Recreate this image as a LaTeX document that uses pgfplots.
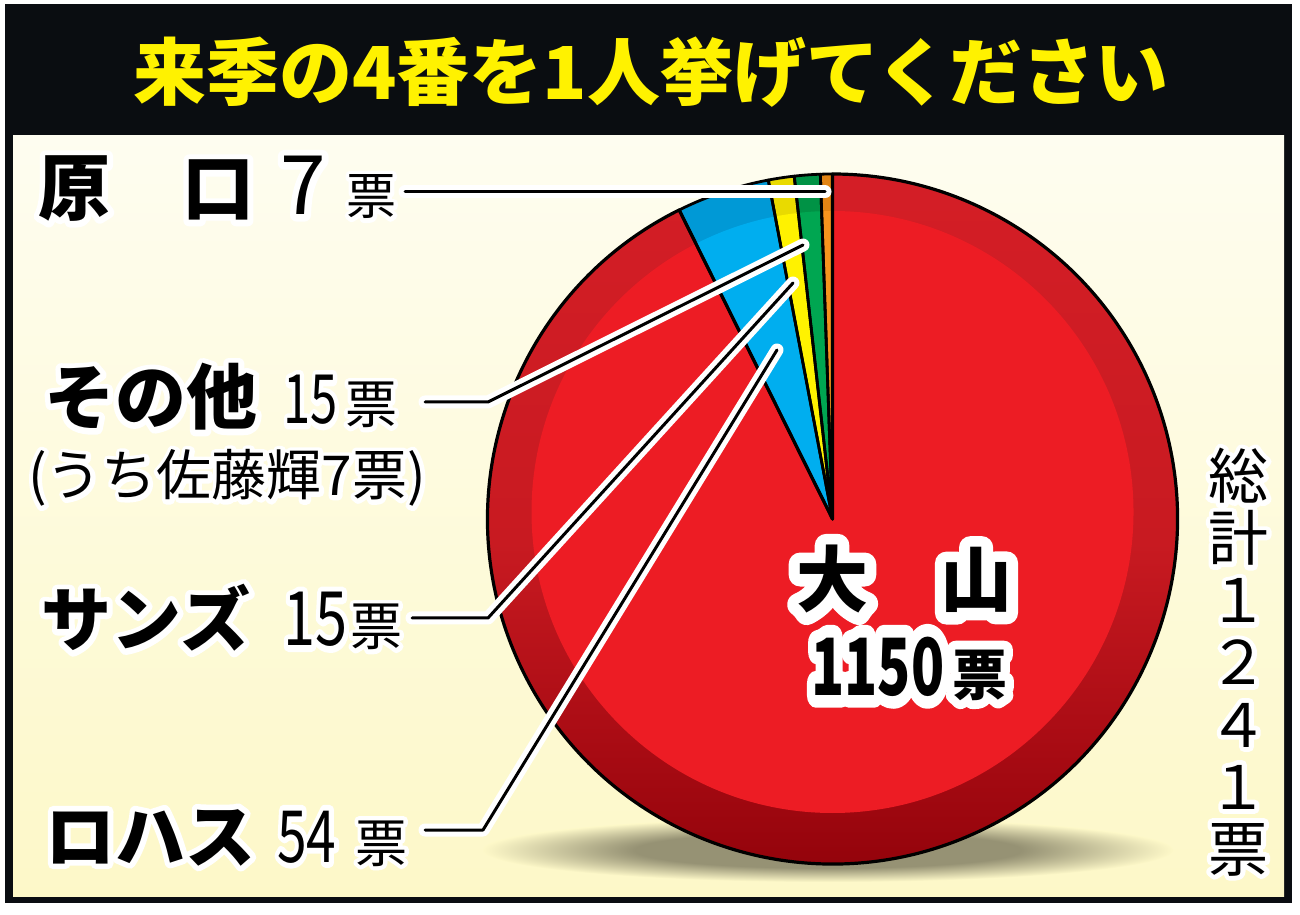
\documentclass[border=0pt]{standalone}
\usepackage{pgfplots}
\pgfplotsset{compat=1.18}
\usepackage{pgfplotstable}
\usepackage{graphicx}
\usepackage{fontspec}
\newfontfamily\jp{Noto Sans CJK JP}
\newfontfamily\jphs{Noto Sans CJK JP}[FakeBold=16]
\newfontfamily\jphl{Noto Sans CJK JP}[FakeBold=32]

\definecolor{frameblk}{RGB}{10,13,17}
\definecolor{ttlyel}{RGB}{255,242,0}
\definecolor{creamtop}{RGB}{254,253,240}
\definecolor{creambot}{RGB}{253,248,200}
\definecolor{shad}{RGB}{150,146,116}
\definecolor{pred}{RGB}{237,28,36}
\definecolor{predtop}{RGB}{212,30,38}
\definecolor{predmid}{RGB}{200,26,33}
\definecolor{predlow}{RGB}{170,12,20}
\definecolor{preddark}{RGB}{140,0,8}
\definecolor{pblue}{RGB}{0,174,239}
\definecolor{pbluer}{RGB}{0,153,214}
\definecolor{pyel}{RGB}{255,242,0}
\definecolor{pyelr}{RGB}{233,218,0}
\definecolor{pgreen}{RGB}{0,166,81}
\definecolor{pgreenr}{RGB}{0,146,69}
\definecolor{porange}{RGB}{247,148,29}
\definecolor{porr}{RGB}{226,132,20}

\pgfdeclareverticalshading{redring}{100bp}{color(0bp)=(preddark); color(25bp)=(preddark);
  color(37bp)=(predlow); color(50bp)=(predmid); color(75bp)=(predtop); color(100bp)=(predtop)}
\pgfdeclareradialshading{shadowsh}{\pgfpoint{0bp}{0bp}}{color(0bp)=(shad); color(14bp)=(shad);
  color(25bp)=(creambot); color(50bp)=(creambot)}

% votes, counter-clockwise from the top
\pgfplotstableread{
name      votes
Haraguchi 7
Sonota    15
Sands     15
Rojas     54
Oyama     1150
}\votes

\pgfplotstablegetelem{0}{votes}\of\votes \let\vA\pgfplotsretval
\pgfplotstablegetelem{1}{votes}\of\votes \let\vB\pgfplotsretval
\pgfplotstablegetelem{2}{votes}\of\votes \let\vC\pgfplotsretval
\pgfplotstablegetelem{3}{votes}\of\votes \let\vD\pgfplotsretval
\pgfplotstablegetelem{4}{votes}\of\votes \let\vE\pgfplotsretval
\pgfmathsetmacro\tot{\vA+\vB+\vC+\vD+\vE}
\pgfmathsetmacro\aA{90}
\pgfmathsetmacro\aB{\aA+\vA/\tot*360}
\pgfmathsetmacro\aC{\aB+\vB/\tot*360}
\pgfmathsetmacro\aD{\aC+\vC/\tot*360}
\pgfmathsetmacro\aE{\aD+\vD/\tot*360}
\pgfmathsetmacro\aF{\aE+\vE/\tot*360}

\def\cx{832.5}
\def\cy{388}
\def\R{345}
\newcommand\slice[3]{%
  \path[#3] (axis cs:\cx,\cy) -- (axis cs:{\cx+\R*cos(#1)},{\cy+\R*sin(#1)})
    arc[start angle=#1, end angle=#2, radius=\R] -- cycle;}

\tikzset{lbl/.style={anchor=base west, inner sep=0pt, text=black}}

% text with a white outline: an emboldened white copy under the black one
% #1 halo family, #2 weight, #3 size, #4 position, #5 text
\newcommand\htext[5]{%
  \begin{scope}[line join=round]
    \node[lbl, text=white, font=#1#2\fontsize{#3}{#3}\selectfont] at (#4) {#5};
  \end{scope}
  \node[lbl, font=\jp#2\fontsize{#3}{#3}\selectfont] at (#4) {#5};}

\begin{document}
\begin{tikzpicture}
% background in pixel coordinates
\begin{scope}[x=0.5pt,y=-0.5pt,yshift=453.5pt]
  \fill[white] (0,0) rectangle (1300,907);
  \fill[frameblk] (5,4) rectangle (1292,903);
  \shade[top color=creamtop, bottom color=creambot] (13,136) rectangle (1284,896);
  \shade[shading=shadowsh] (828,850) ellipse[x radius=345, y radius=32];
  \node[inner sep=0pt, text=ttlyel, font=\jp\bfseries\fontsize{36.5}{40}\selectfont]
    at (651,72) {来季の4番を1人挙げてください};
\end{scope}

\begin{axis}[
    at={(0,0)}, anchor=south west,
    scale only axis, width=650pt, height=453.5pt,
    xmin=0, xmax=1300, ymin=0, ymax=907,
    hide axis, clip=false
  ]
  % outer ring
  \slice{\aA}{\aB}{fill=porr}
  \slice{\aB}{\aC}{fill=pgreenr}
  \slice{\aC}{\aD}{fill=pyelr}
  \slice{\aD}{\aE}{fill=pbluer}
  \slice{\aE}{\aF}{shade, shading=redring}
  % flat face
  \begin{scope}
    \clip (axis cs:\cx,395) circle[radius=301];
    \slice{\aA}{\aB}{fill=porange}
    \slice{\aB}{\aC}{fill=pgreen}
    \slice{\aC}{\aD}{fill=pyel}
    \slice{\aD}{\aE}{fill=pblue}
    \slice{\aE}{\aF}{fill=pred}
  \end{scope}
  \slice{\aA}{\aB}{draw=black, line width=1.4pt, line join=round}
  \slice{\aB}{\aC}{draw=black, line width=1.4pt, line join=round}
  \slice{\aC}{\aD}{draw=black, line width=1.4pt, line join=round}
  \slice{\aD}{\aE}{draw=black, line width=1.4pt, line join=round}
  \slice{\aE}{\aF}{draw=black, line width=1.6pt, line join=round}
\end{axis}

% labels and leader lines in pixel coordinates
\begin{scope}[x=0.5pt,y=-0.5pt,yshift=453.5pt]
  \foreach \pth in {{(405,192) -- (825,192)},
                    {(425,402) -- (488,402) -- (803,245)},
                    {(412,618) -- (488,618) -- (793,283)},
                    {(425,830) -- (483,830) -- (777,350)}}{
    \draw[white, line width=6.5pt, line cap=round, line join=round] \pth;
    \draw[black, line width=1.5pt, line cap=round, line join=round] \pth;
  }

  \htext{\jphs}{\bfseries}{36}{38,215}{原　口}
  \htext{\jphs}{\mdseries}{41}{280,215}{7}
  \htext{\jphs}{\mdseries}{25}{346,215}{票}

  \htext{\jphs}{\bfseries}{35.5}{44,424}{その他}
  \htext{\jphs}{\mdseries}{34}{283,424}{\scalebox{0.72}[1]{15}}
  \htext{\jphs}{\mdseries}{26}{345,424}{票}
  \htext{\jphs}{\mdseries}{27.5}{28,496}{(うち佐藤輝7票)}

  \htext{\jphs}{\bfseries}{35}{41,646}{サンズ}
  \htext{\jphs}{\mdseries}{37.5}{283,646}{\scalebox{0.77}[1]{15}}
  \htext{\jphs}{\mdseries}{26}{350,646}{票}

  \htext{\jphs}{\bfseries}{35}{45,862}{ロハス}
  \htext{\jphs}{\mdseries}{36}{277,862}{\scalebox{0.74}[1]{54}}
  \htext{\jphs}{\mdseries}{26}{355,862}{票}

  \htext{\jphl}{\bfseries}{36}{796,607}{大　山}
  \htext{\jphl}{\bfseries}{39.5}{811,695}{\scalebox{0.69}[1]{1150}}
  \htext{\jphl}{\bfseries}{27.5}{952,695}{票}

  \foreach \c [count=\i from 0] in {総,計,１,２,４,１,票}{
    \htext{\jphs}{\mdseries}{30}{1208,{499+62*\i}}{\c}
  }
\end{scope}
\end{tikzpicture}
\end{document}
